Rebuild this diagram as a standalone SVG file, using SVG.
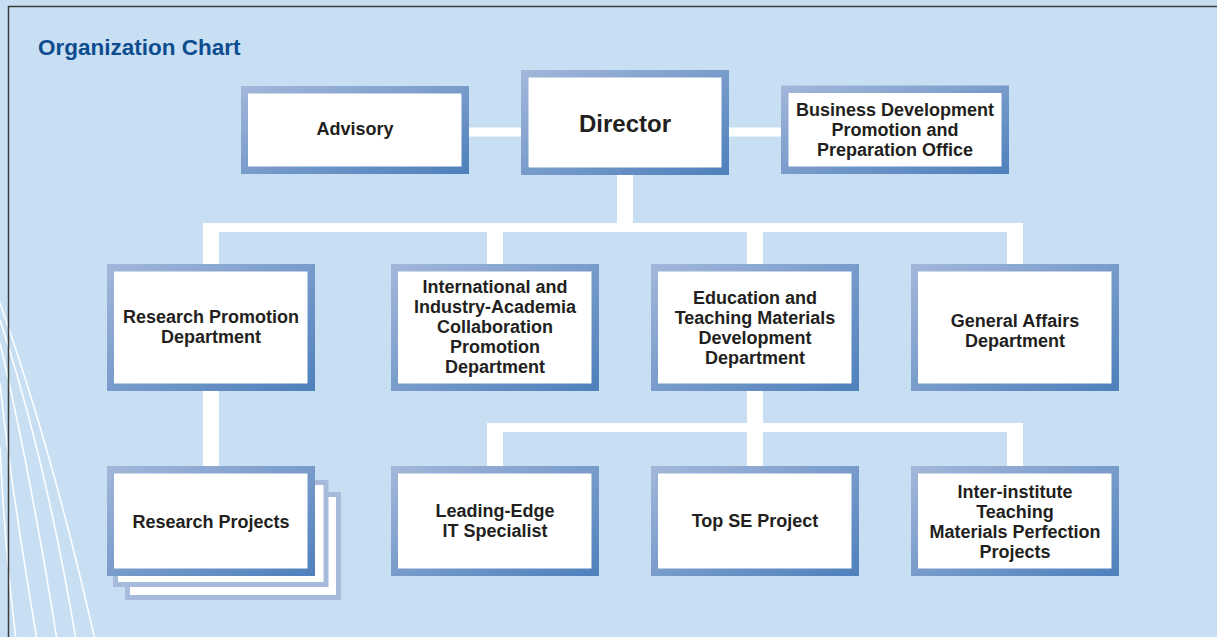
<svg xmlns="http://www.w3.org/2000/svg" width="1217" height="637" viewBox="0 0 1217 637">
<defs>
<linearGradient id="bg" x1="0" y1="0" x2="1" y2="1">
<stop offset="0" stop-color="#a3b7da"/>
<stop offset="1" stop-color="#4e80bc"/>
</linearGradient>
<style>
.frame{fill:url(#bg)}
.inner{fill:#ffffff}
.back{fill:#ffffff;stroke:#a6bbdb;stroke-width:5}
.t{font-family:"Liberation Sans",Arial,sans-serif;font-weight:bold;font-size:18px;fill:#231f20;text-anchor:middle}
.big{font-size:24px}
.title{font-family:"Liberation Sans",Arial,sans-serif;font-weight:bold;font-size:22.5px;fill:#0d4c8f}
.wire{fill:#ffffff}
.curve{fill:none;stroke:#ffffff;stroke-width:1.5}
</style>
</defs>
<rect x="0" y="0" width="1217" height="637" fill="#c8dff3"/>
<g id="curves">
<path class="curve" d="M0,303 Q52,450 95,640"/>
<path class="curve" d="M0,320 Q46,460 76,640"/>
<path class="curve" d="M0,343 Q30,470 57,640"/>
<path class="curve" d="M0,383 Q10,480 37,640"/>
<path class="curve" d="M0,447 Q4,540 16,640"/>
</g>
<rect x="8.5" y="6.5" width="1300" height="700" fill="none" stroke="#3d3d3d" stroke-width="1.5"/>
<text class="title" x="38" y="55">Organization Chart</text>
<g id="connectors">
<rect class="wire" x="469" y="127.5" width="52" height="9"/>
<rect class="wire" x="729" y="127.5" width="52" height="9"/>
<rect class="wire" x="617" y="175" width="16" height="57"/>
<rect class="wire" x="203" y="223" width="820" height="9"/>
<rect class="wire" x="203" y="223" width="16" height="41"/>
<rect class="wire" x="487" y="223" width="16" height="41"/>
<rect class="wire" x="747" y="223" width="16" height="41"/>
<rect class="wire" x="1007" y="223" width="16" height="41"/>
<rect class="wire" x="203" y="391" width="16" height="75"/>
<rect class="wire" x="747" y="391" width="16" height="75"/>
<rect class="wire" x="487" y="423" width="536" height="9"/>
<rect class="wire" x="487" y="423" width="16" height="43"/>
<rect class="wire" x="1007" y="423" width="16" height="43"/>
</g>
<g id="advisory">
<rect class="frame" x="241" y="86" width="228" height="88"/>
<rect class="inner" x="248" y="93.5" width="213.5" height="73"/>
<text class="t" x="355" y="135">Advisory</text>
</g>
<g id="director">
<rect class="frame" x="521" y="70" width="208" height="105"/>
<rect class="inner" x="528.5" y="77.5" width="193" height="90"/>
<text class="t big" x="625" y="132">Director</text>
</g>
<g id="business">
<rect class="frame" x="781" y="85.5" width="228" height="88.5"/>
<rect class="inner" x="788.5" y="93" width="213" height="73.5"/>
<text class="t" x="895" y="116">Business Development</text>
<text class="t" x="895" y="136">Promotion and</text>
<text class="t" x="895" y="156">Preparation Office</text>
</g>
<g id="research-promotion">
<rect class="frame" x="107" y="264" width="208" height="127"/>
<rect class="inner" x="114" y="271.5" width="193.5" height="112"/>
<text class="t" x="211" y="323">Research Promotion</text>
<text class="t" x="211" y="343">Department</text>
</g>
<g id="international">
<rect class="frame" x="391" y="264" width="208" height="127"/>
<rect class="inner" x="398" y="271.5" width="193.5" height="112"/>
<text class="t" x="495" y="293">International and</text>
<text class="t" x="495" y="313">Industry-Academia</text>
<text class="t" x="495" y="333">Collaboration</text>
<text class="t" x="495" y="353">Promotion</text>
<text class="t" x="495" y="373">Department</text>
</g>
<g id="education">
<rect class="frame" x="651" y="264" width="208" height="127"/>
<rect class="inner" x="658" y="271.5" width="193.5" height="112"/>
<text class="t" x="755" y="304">Education and</text>
<text class="t" x="755" y="324">Teaching Materials</text>
<text class="t" x="755" y="344">Development</text>
<text class="t" x="755" y="364">Department</text>
</g>
<g id="general-affairs">
<rect class="frame" x="911" y="264" width="208" height="127"/>
<rect class="inner" x="918" y="271.5" width="193.5" height="112"/>
<text class="t" x="1015" y="327">General Affairs</text>
<text class="t" x="1015" y="347">Department</text>
</g>
<g id="research-projects">
<rect class="back" x="127.5" y="494.5" width="211" height="103"/>
<rect class="back" x="115.5" y="482.5" width="210.5" height="102"/>
<rect class="frame" x="107" y="466" width="208" height="110"/>
<rect class="inner" x="114" y="473.5" width="193.5" height="95"/>
<text class="t" x="211" y="528">Research Projects</text>
</g>
<g id="leading-edge">
<rect class="frame" x="391" y="466" width="208" height="110"/>
<rect class="inner" x="398" y="473.5" width="193.5" height="95"/>
<text class="t" x="495" y="517">Leading-Edge</text>
<text class="t" x="495" y="537">IT Specialist</text>
</g>
<g id="top-se">
<rect class="frame" x="651" y="466" width="208" height="110"/>
<rect class="inner" x="658" y="473.5" width="193.5" height="95"/>
<text class="t" x="755" y="527">Top SE Project</text>
</g>
<g id="inter-institute">
<rect class="frame" x="911" y="466" width="208" height="110"/>
<rect class="inner" x="918" y="473.5" width="193.5" height="95"/>
<text class="t" x="1015" y="498">Inter-institute</text>
<text class="t" x="1015" y="518">Teaching</text>
<text class="t" x="1015" y="538">Materials Perfection</text>
<text class="t" x="1015" y="558">Projects</text>
</g>
</svg>
